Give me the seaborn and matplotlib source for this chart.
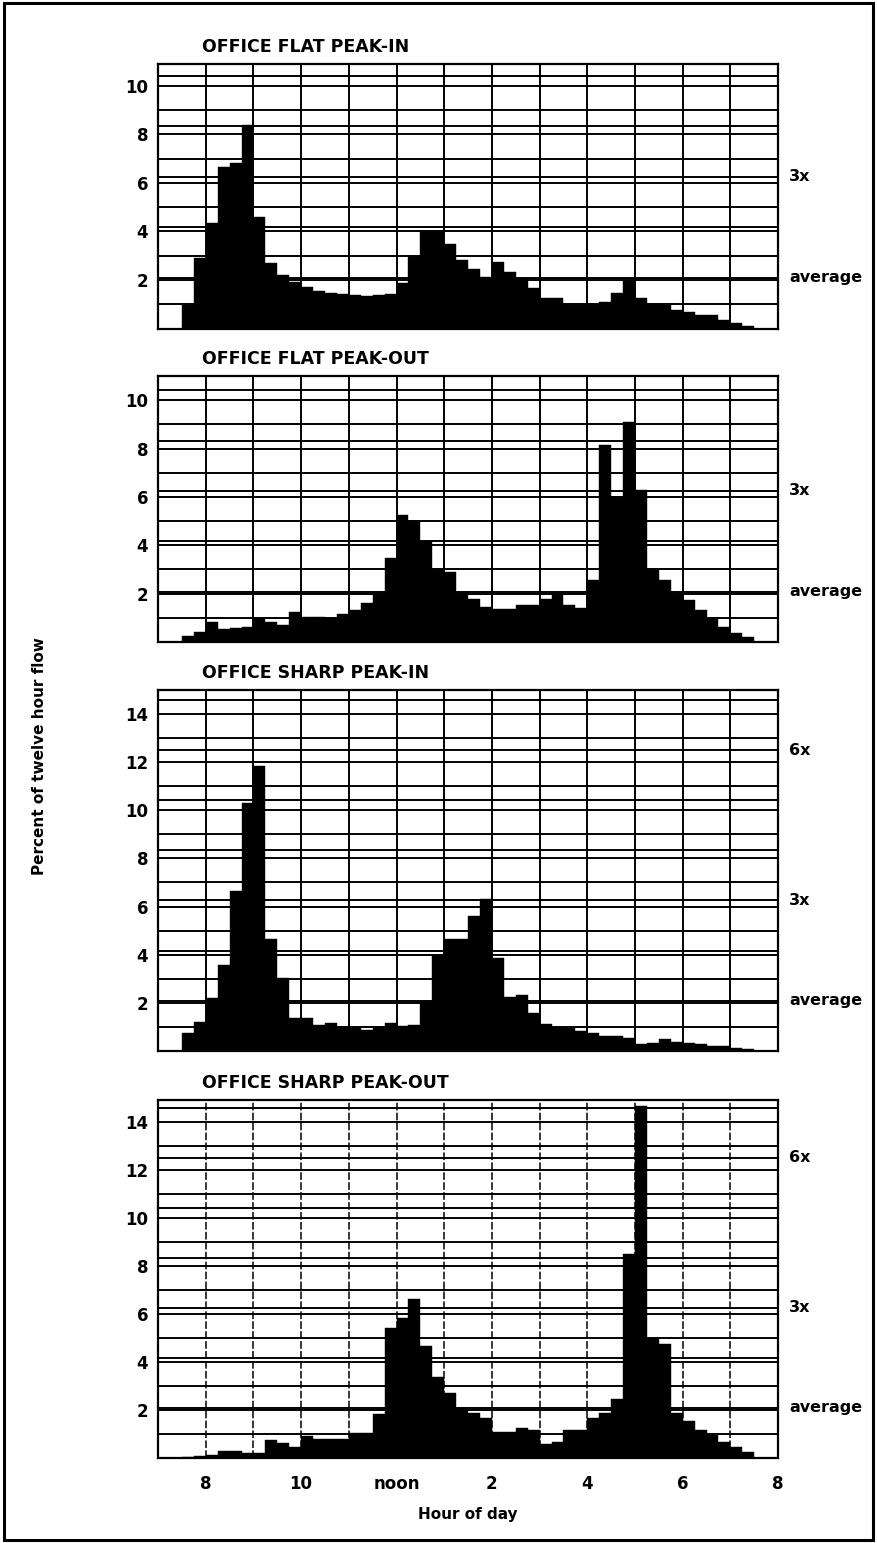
import numpy as np
import pandas as pd
import seaborn as sns
import matplotlib.pyplot as plt
from matplotlib import rcParams
from matplotlib.patches import Rectangle
from matplotlib.transforms import offset_copy

# start of each 15 minute count, in hours (7:30 am .. 7:15 pm)
interval_start = np.arange(7.5, 19.5, 0.25)

# percent of twelve hour flow in each 15 minute interval
flat_peak_in = [0.97, 2.9, 4.36, 6.67, 6.81, 8.39, 4.58, 2.69, 2.2, 1.93,
                1.72, 1.56, 1.48, 1.42, 1.4, 1.34, 1.39, 1.44, 1.86, 2.96,
                3.97, 3.97, 3.5, 2.82, 2.45, 2.14, 2.75, 2.34, 2.07, 1.66,
                1.25, 1.25, 0.97, 0.97, 0.97, 1.1, 1.45, 1.96, 1.25, 1.01,
                1.01, 0.76, 0.69, 0.56, 0.56, 0.35, 0.22, 0.1]
flat_peak_out = [0.25, 0.43, 0.84, 0.52, 0.56, 0.63, 0.98, 0.84, 0.7, 1.25,
                 1.05, 1.05, 0.98, 1.16, 1.32, 1.6, 2.01, 3.46, 5.25, 5.0,
                 4.14, 3.0, 2.9, 2.01, 1.8, 1.46, 1.35, 1.35, 1.53, 1.53,
                 1.76, 2.04, 1.53, 1.39, 2.56, 8.14, 6.0, 9.1, 6.28, 2.98,
                 2.56, 2.01, 1.74, 1.32, 0.98, 0.63, 0.36, 0.22]
sharp_peak_in = [0.74, 1.22, 2.2, 3.58, 6.64, 10.32, 11.85, 4.63, 3.03, 1.36,
                 1.36, 1.08, 1.15, 1.01, 0.94, 0.85, 1.01, 1.15, 1.04, 1.08,
                 2.05, 3.93, 4.63, 4.63, 5.6, 6.32, 3.86, 2.26, 2.33, 1.57,
                 1.11, 0.94, 0.94, 0.81, 0.74, 0.6, 0.63, 0.53, 0.3, 0.32,
                 0.5, 0.39, 0.35, 0.29, 0.22, 0.2, 0.11, 0.07]
sharp_peak_out = [0.04, 0.08, 0.12, 0.29, 0.29, 0.2, 0.22, 0.75, 0.64, 0.47,
                  0.92, 0.78, 0.78, 0.78, 1.06, 1.06, 1.82, 5.4, 5.82, 6.61,
                  4.67, 3.36, 2.72, 2.07, 1.86, 1.65, 1.07, 1.07, 1.26, 1.17,
                  0.58, 0.68, 1.17, 1.17, 1.65, 1.86, 2.44, 8.5, 14.64, 4.94,
                  4.75, 1.86, 1.56, 1.17, 0.97, 0.68, 0.47, 0.26]

titles = ["OFFICE FLAT PEAK-IN", "OFFICE FLAT PEAK-OUT",
          "OFFICE SHARP PEAK-IN", "OFFICE SHARP PEAK-OUT"]
hour_ticks = [8, 10, 12, 14, 16, 18, 20]
hour_labels = ["8", "10", "noon", "2", "4", "6", "8"]
flat_yticks = [2, 4, 6, 8, 10]
sharp_yticks = [2, 4, 6, 8, 10, 12, 14]
ref_multiples = [1, 3, 6]
ref_labels = ["average", "3x", "6x"]
average = 100 / 48  # flat share of one 15 minute interval

LW = 1.4
sns.set_style('white')
rcParams['font.family'] = ['DejaVu Sans']
rcParams['font.weight'] = 'bold'
rcParams['text.color'] = 'black'
rcParams['xtick.color'] = 'black'
rcParams['ytick.color'] = 'black'


def draw_panel(fig, rect, values, title, yticks, ytop, bottom=False, dashed=False):
    ax = fig.add_axes(rect)
    df = pd.DataFrame({'hour': interval_start + 0.125, 'pct': values})
    sns.histplot(data=df, x='hour', weights='pct', binwidth=0.25,
                 binrange=(7.5, 19.5), color='black', alpha=1,
                 edgecolor='black', linewidth=0.3, ax=ax, zorder=3)
    ax.set_xlim(7, 20)
    ax.set_ylim(0, ytop)

    for h in range(8, 20):
        ax.axvline(h, color='black', lw=LW if not dashed else 1.1, zorder=1,
                   ls=(0, (5, 1.5)) if dashed else '-')
    levels = list(range(1, int(ytop) + 1))
    levels += [k * average for k in range(1, 8) if k * average < ytop]
    for y in levels:
        ax.axhline(y, color='black', lw=LW, zorder=1)

    for m, lab in zip(ref_multiples, ref_labels):
        if m * average < ytop:
            ax.text(1.018, m * average, lab, transform=ax.get_yaxis_transform(),
                    ha='left', va='center', fontsize=11.5, fontweight='bold')

    ax.text(0.071, 1.0, title, fontsize=12.5, fontweight='bold', va='baseline',
            transform=offset_copy(ax.transAxes, fig=fig, y=8.5, units='points'))

    ax.set_yticks(yticks)
    ax.set_yticklabels([str(t) for t in yticks], fontsize=12, fontweight='bold')
    if bottom:
        ax.set_xticks(hour_ticks)
        ax.set_xticklabels(hour_labels, fontsize=12, fontweight='bold')
    else:
        ax.set_xticks([])
    ax.tick_params(length=0, pad=7)
    ax.tick_params(axis='x', pad=12)
    ax.set_xlabel('')
    ax.set_ylabel('')
    for s in ax.spines.values():
        s.set_visible(True)
        s.set_color('black')
        s.set_linewidth(1.6)
        s.set_zorder(4)
    return ax


fig = plt.figure(figsize=(8.77, 15.43), dpi=100)
left, width = 0.1802, 0.707
panels = [
    (flat_peak_in, flat_yticks, 10.9, (left, 0.7871, width, 0.1714)),
    (flat_peak_out, flat_yticks, 11.0, (left, 0.5839, width, 0.1724)),
    (sharp_peak_in, sharp_yticks, 15.0, (left, 0.3189, width, 0.234)),
    (sharp_peak_out, sharp_yticks, 14.9, (left, 0.0551, width, 0.232)),
]
for i, (vals, yt, ytop, rect) in enumerate(panels):
    draw_panel(fig, rect, vals, titles[i], yt, ytop, bottom=(i == 3), dashed=(i == 3))

fig.text(40 / 877, 1 - 756 / 1543, "Percent of twelve hour flow", rotation=90,
         ha='center', va='center', fontsize=11, fontweight='bold')
fig.text(468 / 877, 1 - 1514 / 1543, "Hour of day", ha='center', va='center',
         fontsize=11, fontweight='bold')
fig.patches.append(Rectangle((0.005, 0.002), 0.991, 0.996, transform=fig.transFigure,
                             fill=False, lw=2.2, edgecolor='black'))

fig.savefig('out.png', dpi=100, facecolor='white')
